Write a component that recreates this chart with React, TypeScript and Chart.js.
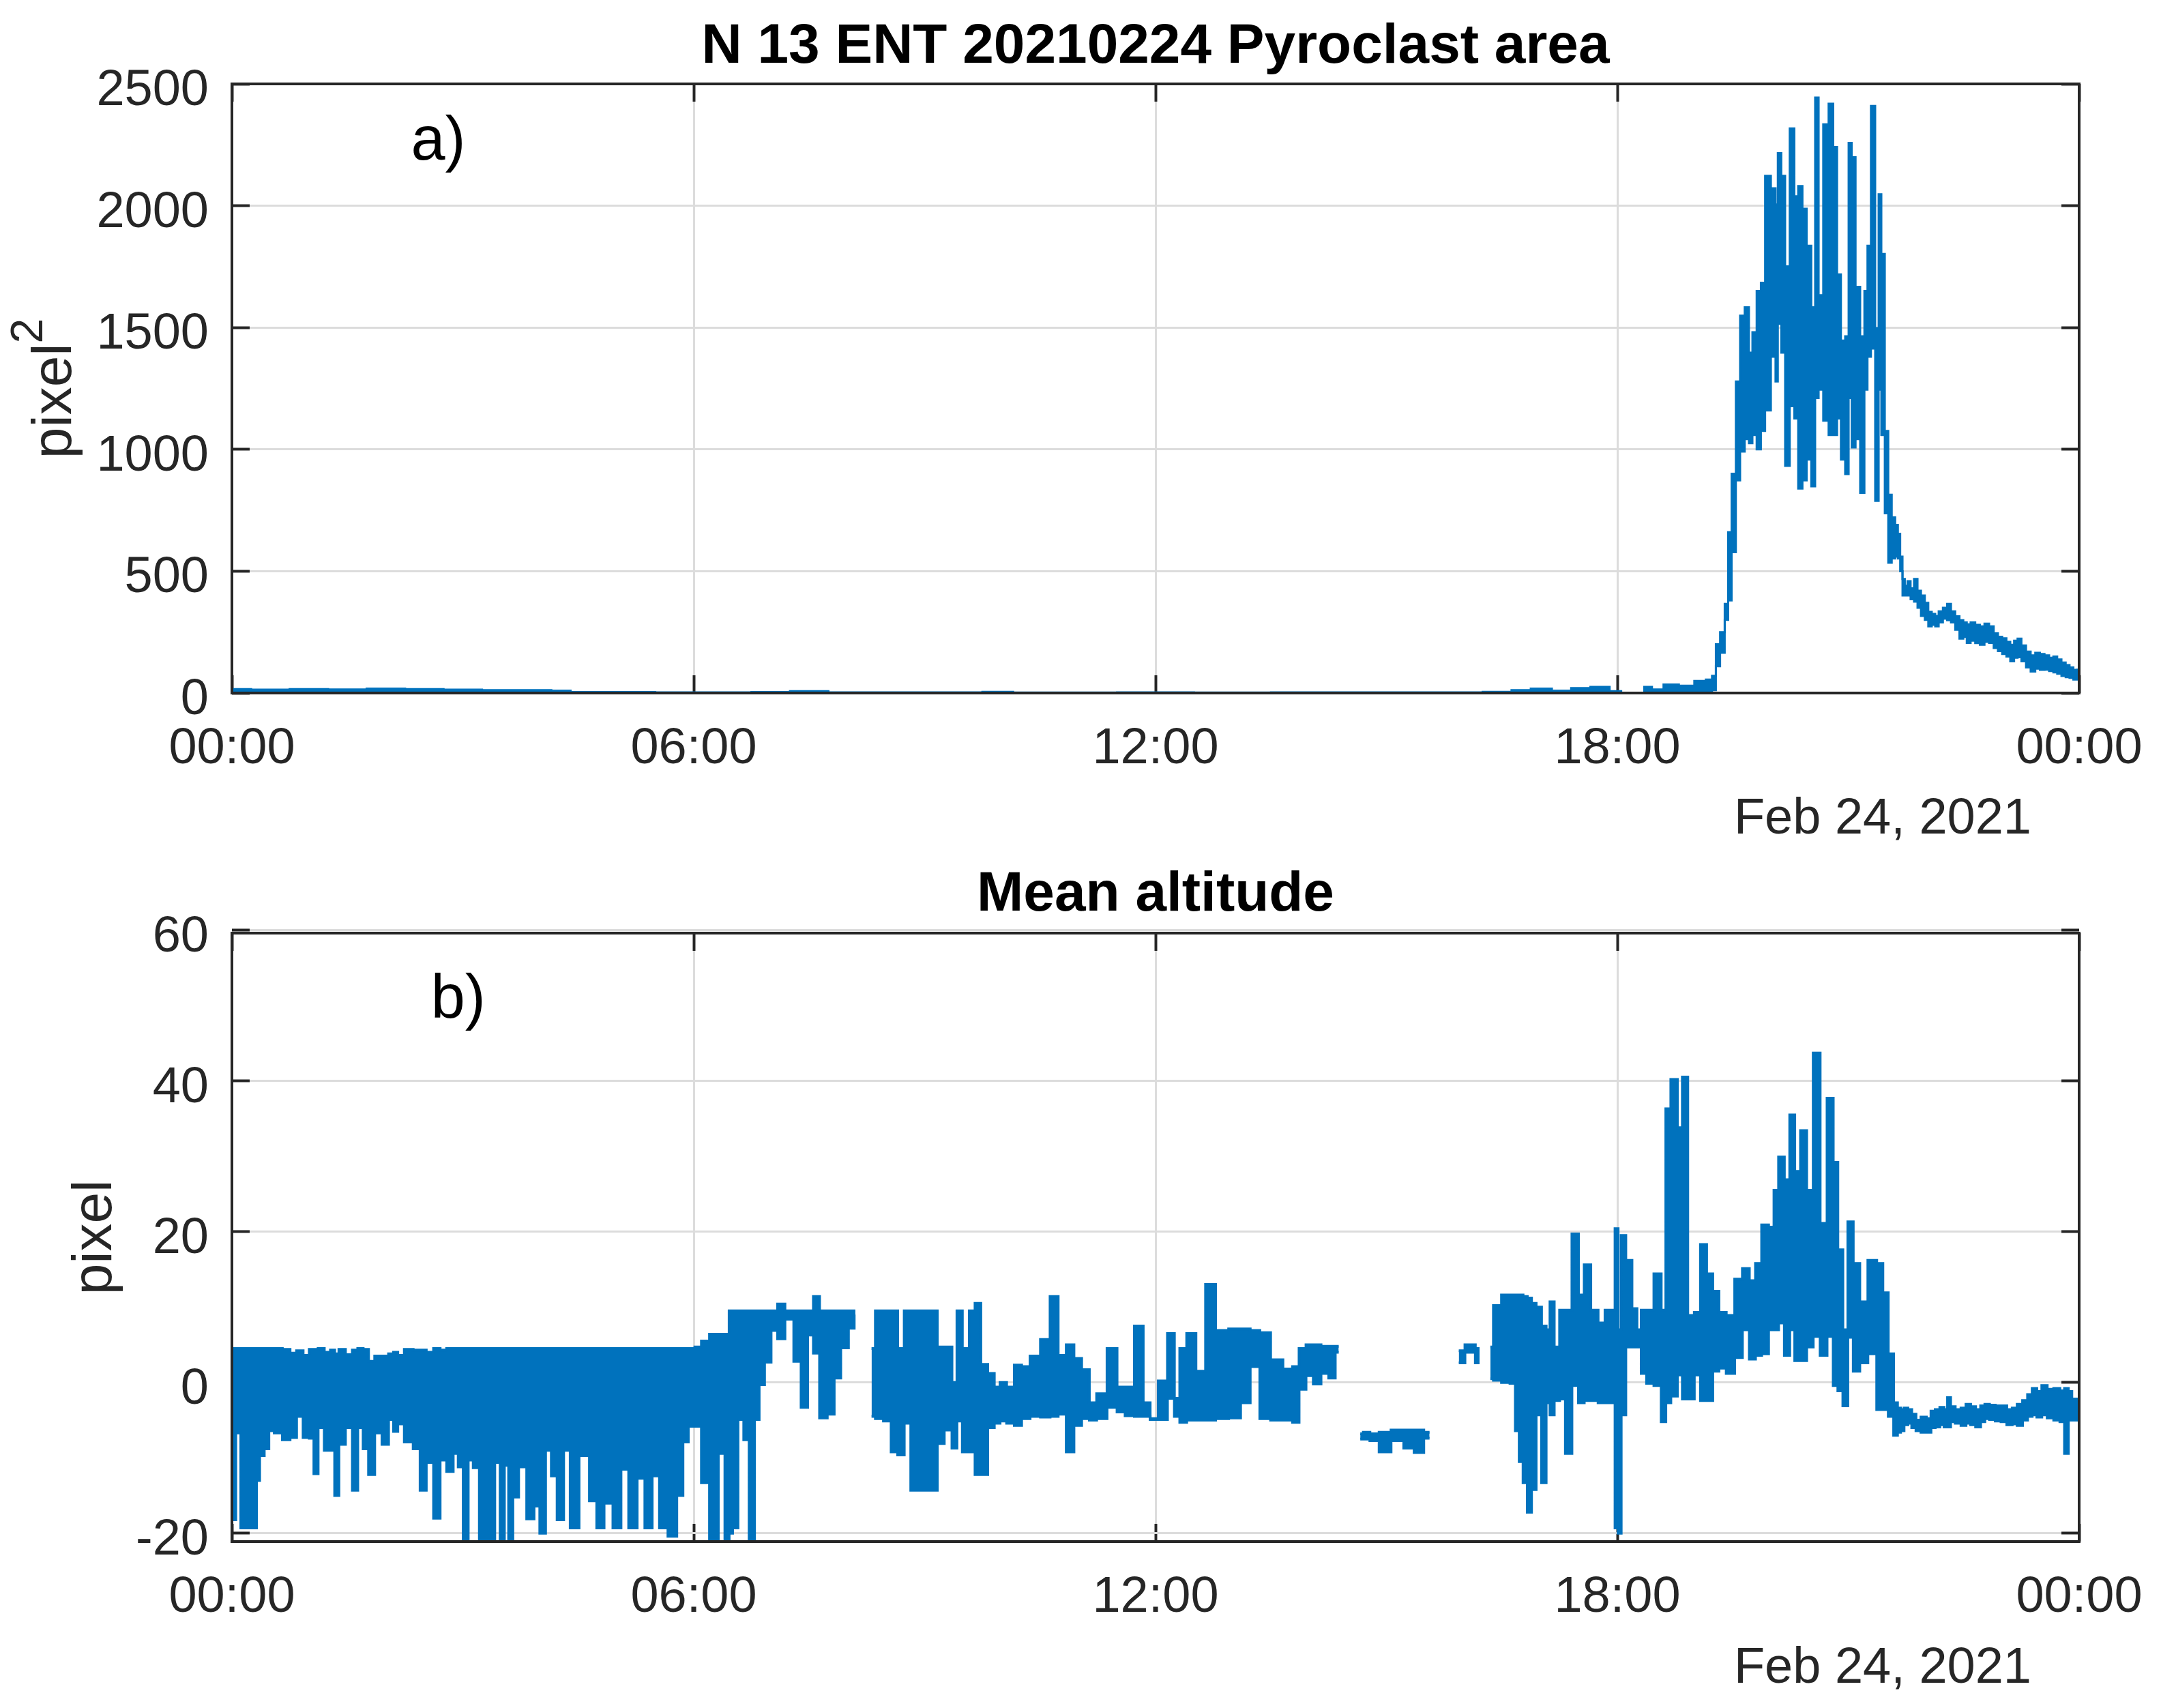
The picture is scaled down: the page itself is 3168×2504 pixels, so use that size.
import { useEffect, useRef } from "react"
import { Chart, registerables } from "chart.js"

Chart.register(...registerables)

const hourTicks = [0, 6, 12, 18, 24]
const hourLabels = ["00:00", "06:00", "12:00", "18:00", "00:00"]
const areaTicks = [0, 500, 1000, 1500, 2000, 2500]
const altTicks = [-20, 0, 20, 40, 60]
const dateLabel = "Feb 24, 2021"

// panel a) pyroclast area, upper and lower edge of the trace
const areaHours = [
  0, 0.5, 1, 1.5, 2, 2.5, 3, 3.5, 4, 4.3, 4.5, 5, 6, 6.5, 7, 7.5, 8, 9, 9.5, 10, 10.3, 11, 12, 13, 14, 15, 16, 16.5,
  16.75, 17, 17.3, 17.5, 17.8, 18, 18.1, 18.3, 18.4, 18.5, 18.7, 18.9, 19.1, 19.2, 19.26, 19.3, 19.37, 19.42, 19.46,
  19.51, 19.57, 19.62, 19.69, 19.73, 19.78, 19.84, 19.89, 19.95, 20.04, 20.07, 20.1, 20.16, 20.2, 20.28, 20.32, 20.38,
  20.43, 20.49, 20.55, 20.59, 20.64, 20.71, 20.78, 20.83, 20.88, 20.93, 20.99, 21.02, 21.07, 21.12, 21.19, 21.23, 21.27,
  21.32, 21.38, 21.41, 21.45, 21.5, 21.54,
  21.59, 21.63, 21.66, 21.69, 21.72, 21.75, 21.79, 21.83, 21.88, 21.92, 21.97, 22.02, 22.06, 22.11, 22.15, 22.2, 22.26,
  22.31, 22.36, 22.42, 22.47, 22.52, 22.56, 22.62, 22.68, 22.74, 22.8, 22.86, 22.92, 22.97, 23.03, 23.08, 23.13, 23.18,
  23.22, 23.28, 23.34, 23.4, 23.46, 23.52, 23.58, 23.64, 23.69, 23.74, 23.8, 23.85, 23.9, 23.95, 24,
]
const areaHigh = [
  16, 14, 16, 15, 18, 16, 14, 12, 12, 10, 4, 4, 3, 3, 4, 8, 3, 3, 3, 5, 2, 2, 3, 2, 3, 3, 3, 5, 12, 18, 10, 20, 25, 8,
  0, 0, 25, 15, 35, 30, 50, 55, 71, 200, 250, 300, 660, 900, 1279, 1549, 1583, 1397, 1481, 1650, 1684, 2123, 2072, 2005,
  2216, 2123, 1751, 2317, 2039, 2081, 1988, 1836, 1583, 2444, 1633, 2334, 2419, 2241, 1718, 1447, 1464, 2258, 2199,
  1667, 1464, 1650, 1836, 2410, 1498, 2047, 1802, 1076, 814,
  721, 690, 654, 560, 468, 440, 459, 430, 468, 420, 400, 370, 333, 325, 316, 335, 350,
  366, 335, 315, 299, 290, 282, 290, 280, 274, 285, 274, 245, 231, 225, 210, 198, 215,
  223, 195, 170, 155, 165, 160, 155, 145, 150, 138, 125, 115, 105, 95, 96,
]
const areaLow = [
  0, 0, 0, 0, 0, 0, 0, 0, 0, 0, 0, 0, 0, 0, 0, 0, 0, 0, 0, 0, 0, 0, 0, 0, 0, 0, 0, 0, 0, 0, 0, 0, 0, 0, 0, 0, 0, 0, 0,
  5, 5, 5, 12, 110, 165, 366, 380, 578, 873, 991, 1042, 1025, 1059, 1000, 1076, 1160, 1380, 1279, 1515, 1397, 932, 1177,
  1127, 839, 873, 958, 848, 1211, 1245, 1118, 1059, 1059, 1127, 958, 899, 1211, 1008, 1042, 822, 1245, 1380, 1414, 789,
  1245, 1059, 738, 535,
  552, 560, 552, 500, 400, 400, 400, 385, 375, 350, 316, 300, 274, 280, 274, 290, 305,
  299, 290, 260, 223, 230, 206, 215, 205, 198, 210, 206, 185, 172, 160, 150, 130, 145,
  147, 130, 105, 88, 100, 95, 96, 90, 85, 79, 70, 65, 62, 55, 60,
]

// panel b) mean altitude, upper and lower edge of the trace, null where no data
const altHours = [
  0, 0.02, 0.08, 0.15, 0.23, 0.3, 0.34, 0.38, 0.46, 0.5, 0.6, 0.71, 0.8, 0.88, 0.97, 1.04, 1.09, 1.15, 1.25, 1.31,
  1.36, 1.42, 1.53, 1.6, 1.67, 1.74, 1.81, 1.9, 2, 2.07, 2.13, 2.18, 2.3, 2.41, 2.48, 2.57, 2.67, 2.74, 2.84, 2.91,
  2.97, 3.04, 3.1, 3.17, 3.26, 3.37, 3.46, 3.51, 3.57, 3.62, 3.68, 3.77, 3.89, 3.96, 4.04, 4.11, 4.19, 4.26, 4.36, 4.43,
  4.59, 4.7, 4.78, 4.89, 5.01, 5.1, 5.21, 5.32, 5.41, 5.51, 5.6, 5.73, 5.83, 5.89, 5.97, 6.06, 6.14, 6.27, 6.37, 6.44,
  6.48, 6.53, 6.62, 6.68, 6.76, 6.82, 6.88, 6.96, 7.05, 7.13, 7.24, 7.36, 7.43, 7.53, 7.58, 7.69, 7.78, 7.87, 7.95, 8.07,
  8.1, 8.13, 8.17, 8.21, 8.31, 8.41, 8.52, 8.61, 8.69, 8.78, 8.86, 9, 9.13, 9.2, 9.31, 9.4, 9.44, 9.54, 9.62, 9.69,
  9.77, 9.87, 9.94, 10.02, 10.11, 10.22, 10.3, 10.44, 10.57, 10.69, 10.78, 10.9, 10.98, 11.1, 11.18, 11.29, 11.45,
  11.55, 11.66, 11.79, 11.89, 11.97, 12.1, 12.21, 12.28, 12.35, 12.46, 12.59, 12.71, 12.85, 13.05, 13.16, 13.3, 13.41,
  13.58, 13.73, 13.83, 13.9, 14.01, 14.09, 14.21, 14.29, 14.38, 14.5, 14.66, 14.74, 14.83, 14.98, 15.14, 15.31, 15.41,
  15.56, 15.75, 15.94, 16.1, 16.21, 16.28, 16.35, 16.43, 16.56, 16.65, 16.7, 16.75, 16.8, 16.86, 16.91, 16.98, 17.05,
  17.1, 17.15, 17.21, 17.29, 17.36, 17.46, 17.53, 17.61, 17.7, 17.8, 17.88, 17.95, 17.99, 18.03, 18.07, 18.15, 18.23,
  18.28, 18.34, 18.42, 18.53, 18.61, 18.65, 18.74, 18.82, 18.87, 18.96, 19.04, 19.12, 19.2, 19.28, 19.36, 19.47, 19.58,
  19.67, 19.76, 19.83, 19.92, 20.01, 20.06, 20.13, 20.21, 20.27, 20.34, 20.42, 20.5, 20.59, 20.68, 20.77, 20.84, 20.89,
  20.97, 21.02, 21.11, 21.19, 21.32, 21.42, 21.48, 21.56,
  21.62, 21.66, 21.7, 21.75, 21.8, 21.85, 21.91, 21.98, 22.05, 22.1, 22.16, 22.22, 22.27, 22.31, 22.35, 22.43, 22.5, 22.56,
  22.62, 22.69, 22.75, 22.8, 22.87, 22.95, 23.02, 23.1, 23.16, 23.23, 23.3, 23.36, 23.42, 23.48, 23.55, 23.62, 23.72, 23.78,
  23.84, 23.88, 23.93, 24,
]
const altHigh = [
  4.5, 4.5, 4.5, 4.5, 4.5, 4.5, 4.5, 4.5, 4.5, 4.5, 4.5, 4.4, 3.9, 4.2, 3.6, 4.4, 4.4, 4.5, 4, 4.3,
  3.8, 4.4, 3.7, 4.3, 4.5, 4.4, 2.8, 3.5, 3.5, 3.8, 4, 3.6, 4.4, 4.3, 4.3, 4, 4.5, 4.3, 4.5, 4.5,
  4.5, 4.5, 4.5, 4.5, 4.5, 4.5, 4.5, 4.5, 4.5, 4.5, 4.5, 4.5, 4.5, 4.5, 4.5, 4.5, 4.5, 4.5, 4.5, 4.5,
  4.5, 4.5, 4.5, 4.5, 4.5, 4.5, 4.5, 4.5, 4.5, 4.5, 4.5, 4.5, 4.5, 4.5, 4.5, 4.7, 5.5, 6.4, 6.4, 6.4,
  9.5, 9.5, 9.5, 9.5, 9.5, 9.5, 9.5, 9.5, 9.5, 10.4, 9.5, 9.5, 9.5, 9.5, 11.4, 9.5, 9.5, 9.5, 9.5, 9.5,
  9.5, null, 9.5, null, 4.5, 9.5, 9.5, 9.5, 4.5, 9.5, 9.5, 9.5, 9.5, 4.7, 4.7, 0, 9.5, 4.5, 9.5, 10.5,
  2.4, 1.2, -0.6, 0, -0.6, 2.3, 2.1, 3.5, 5.7, 11.4, 3.6, 5, 3.2, 1.7, -2.7, -1.5, 4.5,
  -0.6, -0.6, 7.5, -2.7, -4.8, 0.2, 6.5, -2.1, 4.5, 6.5, 1.5, 13, 6.9, 7.1, 7.1, 6.9, 6.6,
  3, 1.8, 2.1, 4.5, 5, 5, 4.8, 4.8, 4.8, null, -6.8, -6.6, -6.8, -6.6, -6.3, -6.3, -6.3,
  -6.6, null, 4.2, 5, 4.5, null, 4.7, 10.2, 11.6, 11.6, 11.6, 11.6, 11.4, 11.2, 10.5, 10, 7.5,
  7, 10.7, 4.7, 9.6, 9.6, 19.7, 11.6, 15.6, 9.6, 7.9, 9.6, 9.6, 20.4, 7, 19.5, 16.2, 9.8,
  7, 9.6, 9.6, 14.4, 9.6, 36.3, 40.2, 33.8, 40.5, 8.9, 9.3, 18.3, 14.4, 12.1, 9.3, 8.9, 13.7,
  15.1, 13.5, 15.8, 20.9, 20.6, 25.5, 29.9, 26.9, 35.5, 28, 33.4, 25.5, 43.7, 21.1, 37.7, 29.2, 17.6,
  7, 21.3, 15.8, 10.7, 16.2, 15.8, 11.9, 3.8,
  -2.7, -3.4, -3.6, -3.4, -3.6, -4.2, -5, -4.6, -4.8, -3.8, -3.6, -3.3, -3.6, -2, -3.2, -3.6, -3.4, -2.9,
  -3.2, -3.6, -3.1, -2.9, -3, -3.1, -3.1, -3.6, -3.4, -2.9, -2.4, -1.6, -0.8, -1.2, -0.4, -0.9, -0.8, -1.1,
  -0.8, -1.2, -2.2, -2.6,
]
const altLow = [
  -5.5, -18.2, -6.7, -19.3, -19.3, -19.3, -13, -9.7, -8.8, -6.4, -6.7, -7.6, -7.3, -4.5, -7.3, -7.4, -12.1, -6, -9, -9,
  -15, -8.2, -6, -14.3, -6, -8.8, -12.2, -6.7, -8.2, -4.9, -6.5, -5.5, -7.9, -8.8, -14.3, -10.6, -18, -10.3, -11.8, -9.4,
  -11.2, -21.5, -10.3, -11.3, -21.5, -21.5, -10.6, -21.5, -11, -21.5, -15.2, -11.2, -18.1, -16.4, -20, -9, -12.4, -18.2, -9, -19.3,
  -9.7, -15.7, -19.3, -16, -19.3, -11.5, -19.3, -12.7, -19.3, -12.4, -19.3, -20.4, -15, -7.9, -5.8, -5.8, -13.3, -21.5, -9.4, -21.5,
  -20, -19.3, -4.9, -7.6, -21.5, -4.9, -0.3, 2.7, 6.9, 5.8, 8.4, 2.8, -3.3, 6.3, 3.9, -4.7, -4.2, 0.6, 4.6, 7.2,
  9, null, 2.7, null, -4.5, -4.8, -5.1, -9.2, -9.6, -5.4, -14.3, -14.3, -14.3, -8.1, -6.3, -8.7, -5.1, -9.2, -9.2, -12.2,
  -12.2, -6, -5.4, -5.1, -5.4, -5.7, -4.8, -4.5, -4.6, -4.5, -4.2, -9.2, -5.7, -4.8, -5, -4.8, -3.3,
  -3.9, -4.4, -4.5, -4.5, -4.9, -4.9, -2.1, -4.5, -5.3, -5, -5, -5, -4.8, -4.7, -2.7, 2.1, -4.8,
  -5, -5, -5.3, -0.9, 0.9, -0.2, 1.2, 0.6, 4, null, -7.5, -7.5, -7.7, -9.2, -7.7, -8.7, -9.3,
  -7.4, null, 2.6, 4, 2.6, null, 0.5, 0.3, 0, -0.1, -6.4, -10.5, -13.3, -17.2, -14.2, -4.3, -13.3,
  -2.7, -4.3, -2.4, -2.2, -9.4, -0.4, -2.7, -2.4, -2.4, -2.7, -2.7, -2.7, -19.3, -20, -4.3, 4.7, 4.7,
  4.7, 1.2, -0.1, -0.4, -5.2, -2.7, -1.8, 1, -2.2, -2.2, 1, -2.4, -2.4, 1.5, 1.9, 1.2, 3.3,
  7, 3.1, 3.6, 3.8, 7, 7, 7.9, 3.6, 7, 2.9, 2.9, 4.7, 6.1, 3.6, 6.1, -0.4, -1.1,
  -3.1, 6, 1.5, 2.6, 3.8, -3.6, -3.6, -4.5,
  -7, -6.6, -6.4, -5.6, -5.4, -6, -6.4, -6.6, -6.6, -6, -5.9, -5.6, -5.9, -5.9, -5.2, -5.4, -5.7, -5.4,
  -5.6, -5.9, -5.2, -4.8, -4.9, -5.1, -5.2, -5.6, -5.5, -5.7, -5, -4.5, -4.3, -4.6, -4.3, -4.7, -5, -5.2,
  -9.4, -5, -5, -4.6,
]

const traceColor = "#0072BD"
const inkColor = "#262626"
const gridColor = "#DCDCDC"
const fontFamily = "'Liberation Sans', Arial, sans-serif"

interface PanelProps {
  top: number
  height: number
  areaTop: number
  areaBottom: number
  hours: number[]
  high: (number | null)[]
  low: (number | null)[]
  lineWidth: number
  yMin: number
  yMax: number
  yTicks: number[]
  title: string
  titleY: number
  letter: string
  letterHour: number
  letterValue: number
  yLabel: string
  yLabelX: number
  ySuper?: string
  dateY: number
}

function Panel(props: PanelProps) {
  const canvasRef = useRef<HTMLCanvasElement>(null)

  useEffect(() => {
    if (!canvasRef.current) return

    const drawText = {
      id: "panelText",
      afterDatasetsDraw(chart: Chart) {
        const { ctx, chartArea, scales } = chart
        ctx.save()
        ctx.strokeStyle = inkColor
        ctx.lineWidth = 4
        ctx.strokeRect(chartArea.left, chartArea.top, chartArea.width, chartArea.height)

        ctx.textBaseline = "middle"
        ctx.textAlign = "center"
        ctx.fillStyle = "#000"
        ctx.font = `bold 82px ${fontFamily}`
        ctx.fillText(props.title, (chartArea.left + chartArea.right) / 2, props.titleY)

        ctx.font = `90px ${fontFamily}`
        ctx.fillText(props.letter, scales.x.getPixelForValue(props.letterHour), scales.y.getPixelForValue(props.letterValue))

        ctx.fillStyle = inkColor
        ctx.textBaseline = "alphabetic"
        ctx.font = `74px ${fontFamily}`
        ctx.textAlign = "right"
        ctx.fillText(dateLabel, 2978, props.dateY)

        // value labels sit a little under their tick in the original
        ctx.font = `74px ${fontFamily}`
        props.yTicks.forEach((v) => {
          ctx.fillText(String(v), 306, scales.y.getPixelForValue(v) + 31)
        })

        // y label, turned, with an optional superscript after it
        ctx.translate(props.yLabelX, (chartArea.top + chartArea.bottom) / 2)
        ctx.rotate(-Math.PI / 2)
        ctx.textAlign = "left"
        const labelFont = `82px ${fontFamily}`
        const supFont = `66px ${fontFamily}`
        ctx.font = labelFont
        const w = ctx.measureText(props.yLabel).width
        ctx.font = supFont
        const sw = props.ySuper ? ctx.measureText(props.ySuper).width : 0
        const start = -(w + sw) / 2
        ctx.font = labelFont
        ctx.fillText(props.yLabel, start, 0)
        if (props.ySuper) {
          ctx.font = supFont
          ctx.fillText(props.ySuper, start + w, -42)
        }
        ctx.restore()
      },
    }

    const setHourTicks = (scale: any) => {
      scale.ticks = hourTicks.map((value) => ({ value }))
    }
    const setValueTicks = (scale: any) => {
      scale.ticks = props.yTicks.map((value) => ({ value }))
    }

    const chart = new Chart(canvasRef.current, {
      type: "line",
      data: {
        labels: props.hours,
        datasets: [
          {
            data: props.hours.map((x, i) => ({ x, y: props.high[i] })),
            borderColor: traceColor,
            backgroundColor: traceColor,
            borderWidth: props.lineWidth,
            pointRadius: 0,
            stepped: "middle",
            fill: "+1",
            spanGaps: false,
            clip: 0,
          },
          {
            data: props.hours.map((x, i) => ({ x, y: props.low[i] })),
            borderColor: traceColor,
            borderWidth: props.lineWidth,
            pointRadius: 0,
            stepped: "middle",
            fill: false,
            spanGaps: false,
            clip: 0,
          },
        ] as any,
      },
      plugins: [drawText],
      options: {
        animation: false,
        responsive: false,
        devicePixelRatio: 1,
        layout: { padding: 0 },
        plugins: {
          legend: { display: false },
          title: { display: false },
          tooltip: { enabled: false },
        },
        scales: {
          x: {
            type: "linear",
            min: 0,
            max: 24,
            afterBuildTicks: setHourTicks,
            afterFit: (scale: any) => {
              scale.height = props.height - props.areaBottom
              scale.paddingLeft = 0
              scale.paddingRight = 0
            },
            border: { display: false },
            grid: { color: gridColor, lineWidth: 3, tickColor: inkColor, tickWidth: 4, tickLength: -26 },
            ticks: {
              padding: 64,
              maxRotation: 0,
              autoSkip: false,
              color: inkColor,
              font: { family: fontFamily, size: 74 },
              callback: (value: any) => hourLabels[hourTicks.indexOf(Number(value))],
            },
          },
          x2: {
            type: "linear",
            position: "top",
            min: 0,
            max: 24,
            afterBuildTicks: setHourTicks,
            afterFit: (scale: any) => {
              scale.height = props.areaTop
            },
            border: { display: false },
            grid: { drawOnChartArea: false, tickColor: inkColor, tickWidth: 4, tickLength: -26 },
            ticks: { display: false },
          },
          y: {
            min: props.yMin,
            max: props.yMax,
            afterBuildTicks: setValueTicks,
            afterFit: (scale: any) => {
              scale.width = 340
            },
            border: { display: false },
            grid: { color: gridColor, lineWidth: 3, tickColor: inkColor, tickWidth: 4, tickLength: -26 },
            ticks: { display: false },
          },
          y2: {
            position: "right",
            min: props.yMin,
            max: props.yMax,
            afterBuildTicks: setValueTicks,
            afterFit: (scale: any) => {
              scale.width = 3168 - 3048
            },
            border: { display: false },
            grid: { drawOnChartArea: false, tickColor: inkColor, tickWidth: 4, tickLength: -26 },
            ticks: { display: false },
          },
        },
      } as any,
    })

    return () => chart.destroy()
  }, [])

  return (
    <canvas
      ref={canvasRef}
      width={3168}
      height={props.height}
      style={{ position: "absolute", left: 0, top: props.top, width: 3168, height: props.height }}
    />
  )
}

export default function App() {
  return (
    <div style={{ position: "absolute", left: 0, top: 0, width: 3168, height: 2504, background: "#fff" }}>
      <Panel
        top={0}
        height={1250}
        areaTop={123}
        areaBottom={1016}
        hours={areaHours}
        high={areaHigh}
        low={areaLow}
        lineWidth={3}
        yMin={0}
        yMax={2500}
        yTicks={areaTicks}
        title="N 13 ENT 20210224 Pyroclast area"
        titleY={69}
        letter="a)"
        letterHour={2.68}
        letterValue={2260}
        yLabel="pixel"
        yLabelX={104}
        ySuper="2"
        dateY={1222}
      />
      <Panel
        top={1250}
        height={1254}
        areaTop={118}
        areaBottom={1010}
        hours={altHours}
        high={altHigh}
        low={altLow}
        lineWidth={4}
        yMin={-21.1}
        yMax={59.6}
        yTicks={altTicks}
        title="Mean altitude"
        titleY={62}
        letter="b)"
        letterHour={2.94}
        letterValue={50.6}
        yLabel="pixel"
        yLabelX={163}
        dateY={1217}
      />
    </div>
  )
}
